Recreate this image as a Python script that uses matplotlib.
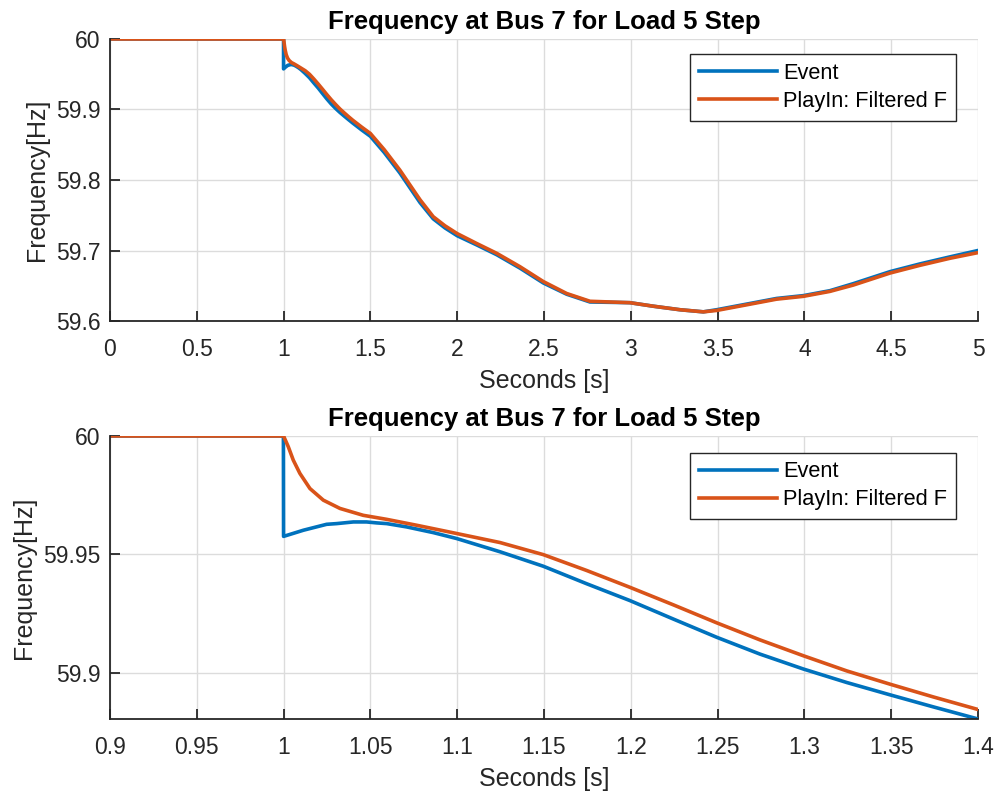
import matplotlib.pyplot as plt
import numpy as np

plt.rcParams['font.family'] = ['Liberation Sans', 'DejaVu Sans']

# Event (blue) trace
t_event = [0.0, 0.9, 0.9999, 1.0, 1.0114, 1.0248, 1.0306, 1.0402, 1.0478, 1.0536,
           1.0594, 1.0709, 1.0862, 1.0997, 1.1247, 1.1496, 1.1746, 1.1995, 1.2245,
           1.2495, 1.2744, 1.2994, 1.3244, 1.3493, 1.3743, 1.4, 1.45, 1.5, 1.58,
           1.67, 1.786, 1.862, 1.93, 2.0, 2.112, 2.228, 2.362, 2.496, 2.631, 2.765,
           2.995, 3.13, 3.283, 3.418, 3.495, 3.668, 3.84, 3.994, 4.147, 4.282,
           4.493, 4.666, 4.839, 5.0]
f_event = [60.0, 60.0, 60.0, 59.9576, 59.9602, 59.9627, 59.9630, 59.9637, 59.9637, 59.9633,
           59.9630, 59.9616, 59.9592, 59.9567, 59.9511, 59.9450, 59.9376, 59.9305, 59.9227,
           59.9150, 59.9079, 59.9016, 59.8959, 59.8907, 59.8856, 59.8805, 59.871, 59.862, 59.839,
           59.810, 59.768, 59.745, 59.732, 59.721, 59.708, 59.694, 59.675, 59.654, 59.638, 59.627,
           59.626, 59.621, 59.616, 59.613, 59.616, 59.624, 59.632, 59.636, 59.643, 59.653,
           59.670, 59.681, 59.691, 59.700]

# PlayIn: Filtered F (orange) trace
t_play = [0.0, 0.9, 1.0, 1.0027, 1.0056, 1.0094, 1.0152, 1.0229, 1.0325, 1.0459,
          1.0594, 1.0767, 1.0959, 1.1247, 1.1496, 1.1746, 1.1995, 1.2245, 1.2495,
          1.2744, 1.2994, 1.3244, 1.3493, 1.3743, 1.4, 1.45, 1.5, 1.58, 1.67, 1.786,
          1.862, 1.93, 2.0, 2.112, 2.228, 2.362, 2.496, 2.631, 2.765, 2.995, 3.13,
          3.283, 3.418, 3.495, 3.668, 3.84, 3.994, 4.147, 4.282, 4.493, 4.666,
          4.839, 5.0]
f_play = [60.0, 60.0, 60.0, 59.9955, 59.9898, 59.9842, 59.9778, 59.9729, 59.9694, 59.9665,
          59.9648, 59.9623, 59.9594, 59.9550, 59.9499, 59.9432, 59.9361, 59.9287, 59.9211,
          59.9139, 59.9072, 59.9008, 59.8952, 59.8898, 59.8845, 59.875, 59.866, 59.843, 59.814, 59.772,
          59.748, 59.735, 59.724, 59.710, 59.696, 59.677, 59.656, 59.639, 59.628, 59.626, 59.621,
          59.616, 59.613, 59.615, 59.623, 59.631, 59.635, 59.642, 59.651, 59.668, 59.679,
          59.689, 59.697]

labels = ['Event', 'PlayIn: Filtered F']
title = 'Frequency at Bus 7 for Load 5 Step'

fig = plt.figure(figsize=(9.96, 7.94), dpi=100)
ax1 = fig.add_axes([0.1104, 0.5957, 0.8715, 0.3552])
ax2 = fig.add_axes([0.1104, 0.0945, 0.8715, 0.3564])

txt = '#262626'
for ax, xlim, ylim, xt, yt, ly in [
        (ax1, (0, 5), (59.6, 60), np.arange(0, 5.01, 0.5), [59.6, 59.7, 59.8, 59.9, 60], 0.9457),
        (ax2, (0.9, 1.4), (59.8805, 60), np.arange(0.9, 1.401, 0.05), [59.9, 59.95, 60], 0.941)]:
    ax.plot(t_event, f_event, color='#0072BD', lw=2.6, label=labels[0])
    ax.plot(t_play, f_play, color='#D95319', lw=2.6, label=labels[1])
    ax.set_xlim(*xlim)
    ax.set_ylim(*ylim)
    ax.set_xticks(xt)
    ax.set_xticklabels(['%g' % round(v, 2) for v in xt])
    ax.set_yticks(yt)
    ax.set_yticklabels(['%g' % v for v in yt])
    ax.grid(True, color='#dcdcdc', lw=1)
    ax.set_axisbelow(True)
    for s in ['top', 'right']:
        ax.spines[s].set_visible(False)
    for s in ['left', 'bottom']:
        ax.spines[s].set_color(txt)
        ax.spines[s].set_linewidth(1.3)
    ax.tick_params(direction='in', length=7, width=1.3, colors=txt, labelsize=16.5)
    ax.tick_params(axis='x', pad=12)
    ax.tick_params(axis='y', pad=7)
    ax.set_title(title, fontsize=18.5, fontweight='bold', pad=7)
    ax.set_xlabel('Seconds [s]', fontsize=18, color=txt, labelpad=6)
    ax.set_ylabel('Frequency[Hz]', fontsize=18, color=txt, labelpad=5)
    leg = ax.legend(loc='upper right', bbox_to_anchor=(0.9747, ly), fontsize=15.7,
                    fancybox=False, framealpha=1, edgecolor=txt, handlelength=3.6,
                    handletextpad=0.27, borderaxespad=0, borderpad=0.4, labelspacing=0.32)
    leg.get_frame().set_linewidth(1.0)

plt.savefig('out.png', dpi=100)
